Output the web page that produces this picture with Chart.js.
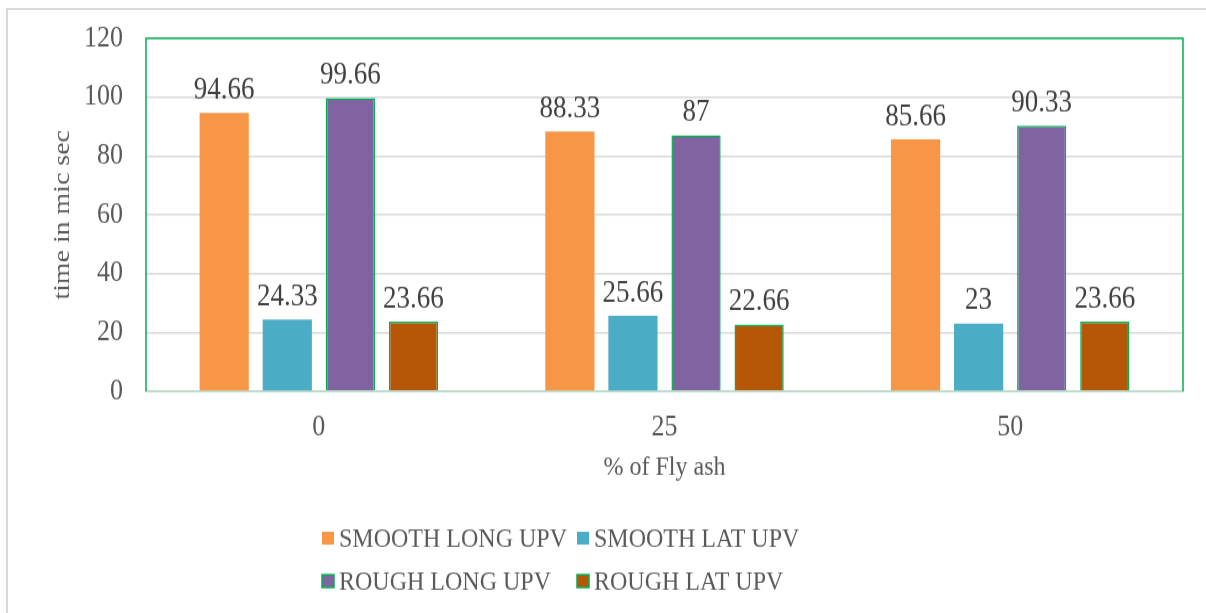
<!DOCTYPE html>
<html>
<head>
<meta charset="utf-8">
<script src="https://cdn.jsdelivr.net/npm/chart.js@4.4.1/dist/chart.umd.min.js"></script>
<style>
  html, body { margin: 0; padding: 0; background: #fff; overflow: hidden; }
  #wrap { position: relative; width: 1206px; height: 613px; overflow: hidden; }
  .rule { position: absolute; background: #d9d9d9; }
  #ruleLeft { left: 6px; top: 8px; width: 2px; height: 605px; }
  #ruleTop { left: 6px; top: 8px; width: 1200px; height: 2px; }
  canvas { position: absolute; left: 0; top: 0; }
</style>
</head>
<body>
<div id="wrap">
  <div class="rule" id="ruleLeft"></div>
  <div class="rule" id="ruleTop"></div>
  <!-- drawn a bit shorter and stretched, the reference is taller than wide in its text -->
  <canvas id="chart" width="1206" height="528" style="width:1206px;height:613px"></canvas>
</div>
<script>
// data
const categories = ['0', '25', '50'];
const smoothLong = [94.66, 88.33, 85.66];
const smoothLat = [24.33, 25.66, 23];
const roughLong = [99.66, 87, 90.33];
const roughLat = [23.66, 22.66, 23.66];
const seriesNames = ['SMOOTH LONG UPV', 'SMOOTH LAT UPV', 'ROUGH LONG UPV', 'ROUGH LAT UPV'];

const fontFamily = '"Liberation Serif", "Times New Roman", serif';
const textColor = '#595959';
const green = '#00B050';

// value labels above bars
const valueLabels = {
    id: 'valueLabels',
    afterDatasetsDraw(chart) {
        const ctx = chart.ctx;
        ctx.save();
        ctx.font = '27px ' + fontFamily;
        ctx.fillStyle = '#404040';
        ctx.textAlign = 'center';
        ctx.textBaseline = 'bottom';
        chart.data.datasets.forEach((ds, i) => {
            chart.getDatasetMeta(i).data.forEach((bar, j) => {
                ctx.fillText(String(ds.data[j]), bar.x, bar.y - 6);
            });
        });
        ctx.restore();
    }
};

// green frame round plot area (top/left/right)
const plotFrame = {
    id: 'plotFrame',
    afterDraw(chart) {
        const a = chart.chartArea;
        const ctx = chart.ctx;
        ctx.save();
        ctx.strokeStyle = green;
        ctx.lineWidth = 1.5;
        ctx.beginPath();
        ctx.moveTo(a.left, a.bottom);
        ctx.lineTo(a.left, a.top);
        ctx.lineTo(a.right, a.top);
        ctx.lineTo(a.right, a.bottom);
        ctx.stroke();
        ctx.restore();
    }
};

// two-row legend
const rowLegend = {
    id: 'rowLegend',
    afterDraw(chart) {
        const ctx = chart.ctx;
        const cols = [322, 577];
        const rows = [463.5, 500.5];
        ctx.save();
        ctx.font = '24px ' + fontFamily;
        ctx.textBaseline = 'middle';
        ctx.textAlign = 'left';
        chart.data.datasets.forEach((ds, i) => {
            const x = cols[i % 2];
            const y = rows[Math.floor(i / 2)];
            ctx.fillStyle = ds.backgroundColor;
            ctx.fillRect(x, y - 5.5, 12, 11);
            if (ds.borderWidth) {
                ctx.strokeStyle = green;
                ctx.lineWidth = 1.5;
                ctx.strokeRect(x, y - 5.5, 12, 11);
            }
            ctx.fillStyle = textColor;
            ctx.fillText(ds.label, x + 17, y + 1);
        });
        ctx.restore();
    }
};

const makeSet = (label, data, color, bordered) => ({
    label,
    data,
    backgroundColor: color,
    borderColor: bordered ? green : color,
    borderWidth: bordered ? 1.5 : 0,
    categoryPercentage: 0.73,
    barPercentage: 0.78
});

new Chart(document.getElementById('chart'), {
    type: 'bar',
    data: {
        labels: categories,
        datasets: [
            makeSet(seriesNames[0], smoothLong, '#F79646', false),
            makeSet(seriesNames[1], smoothLat, '#4BACC6', false),
            makeSet(seriesNames[2], roughLong, '#8064A2', true),
            makeSet(seriesNames[3], roughLat, '#B65708', true)
        ]
    },
    options: {
        responsive: false,
        animation: false,
        layout: { padding: { left: 20, right: 23, top: 33, bottom: 111 } },
        plugins: {
            legend: { display: false },
            tooltip: { enabled: false }
        },
        scales: {
            x: {
                grid: { display: false },
                border: { color: '#BFDCCB', width: 2 },
                ticks: { color: textColor, font: { family: fontFamily, size: 26 }, padding: 8 },
                title: {
                    display: true,
                    text: '% of Fly ash',
                    color: textColor,
                    font: { family: fontFamily, size: 24 },
                    padding: { top: 4, bottom: 0 }
                },
                afterFit: (s) => { s.height = 80; }
            },
            y: {
                min: 0,
                max: 120,
                ticks: { stepSize: 20, color: textColor, font: { family: fontFamily, size: 26 }, padding: 23 },
                grid: { color: '#d9d9d9', lineWidth: 1.5, drawTicks: false },
                border: { display: false },
                title: {
                    display: true,
                    text: 'time in mic sec',
                    color: textColor,
                    font: { family: fontFamily, size: 24 },
                    padding: { top: 28, bottom: 0 }
                },
                afterFit: (s) => {
                    s.width = 126;
                    s.paddingTop = 0;
                    s.paddingBottom = 0;
                }
            }
        }
    },
    plugins: [valueLabels, plotFrame, rowLegend]
});
</script>
</body>
</html>
